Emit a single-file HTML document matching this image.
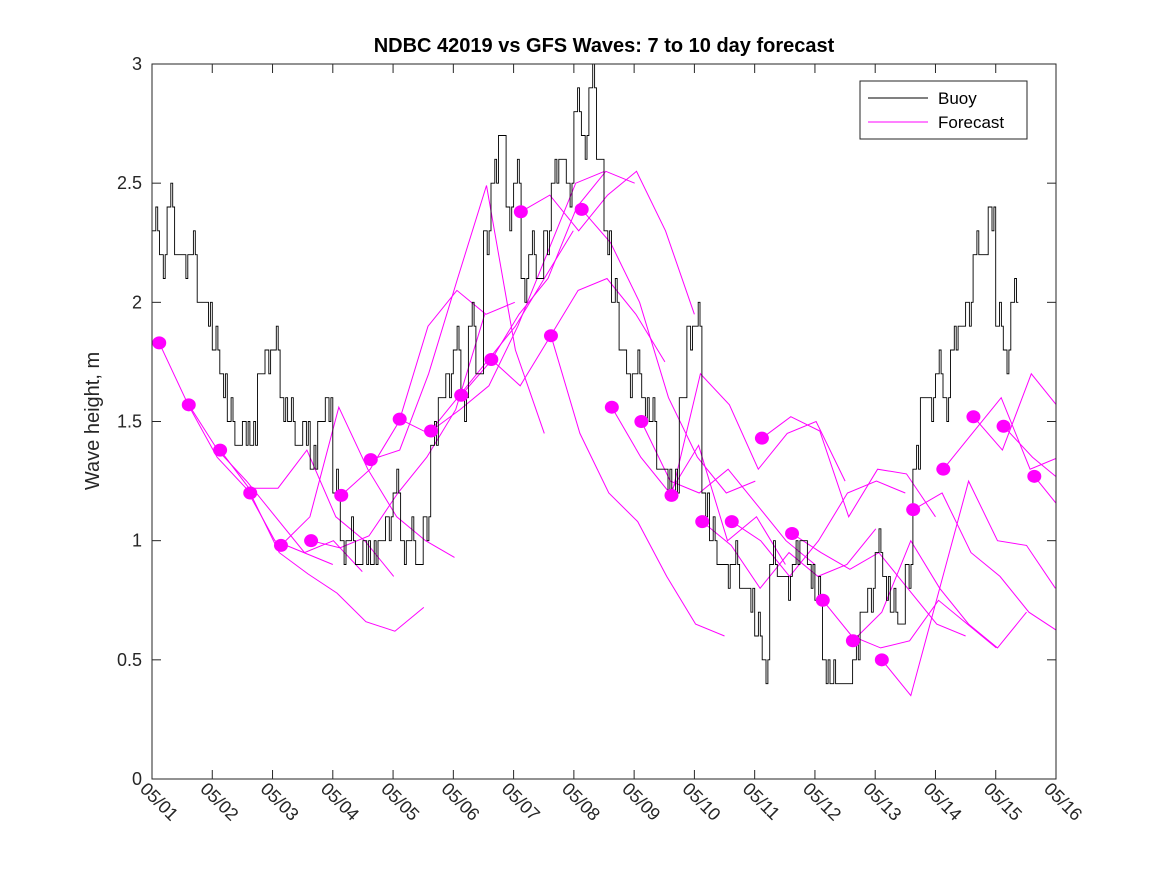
<!DOCTYPE html>
<html><head><meta charset="utf-8"><style>
body{margin:0;background:#fff;}
svg{display:block;font-family:"Liberation Sans","DejaVu Sans",sans-serif;}
</style></head><body>
<svg id="chart" width="1167" height="875" viewBox="0 0 1167 875" xmlns="http://www.w3.org/2000/svg">
<defs><clipPath id="plotclip"><rect x="152" y="64" width="904" height="715"/></clipPath></defs>
<rect x="0" y="0" width="1167" height="875" fill="#fff"/>
<text x="604" y="52" text-anchor="middle" font-size="20" font-weight="bold" fill="#000">NDBC 42019 vs GFS Waves: 7 to 10 day forecast</text>
<text transform="translate(99,421) rotate(-90)" text-anchor="middle" font-size="20" fill="#262626">Wave height, m</text>
<g id="axes"></g>
<g id="series" clip-path="url(#plotclip)"></g>
<rect x="152" y="64" width="904" height="715" fill="none" stroke="#262626" stroke-width="1"/>
<g>
<rect x="860" y="81" width="167" height="58" fill="#fff" stroke="#262626" stroke-width="1"/>
<line x1="868" y1="98" x2="928" y2="98" stroke="#000" stroke-width="1"/>
<text x="938" y="104" font-size="17" fill="#000">Buoy</text>
<line x1="868" y1="122" x2="928" y2="122" stroke="#ff00ff" stroke-width="1"/>
<text x="938" y="128" font-size="17" fill="#000">Forecast</text>
</g>
</svg>
<script>
const xTickLabels = ["05/01","05/02","05/03","05/04","05/05","05/06","05/07","05/08","05/09","05/10","05/11","05/12","05/13","05/14","05/15","05/16"];
const yTickValues = [0,0.5,1,1.5,2,2.5,3];
const yTickLabels = ["0","0.5","1","1.5","2","2.5","3"];
const buoyStep = 0.125;
const buoyValues = [
2.3,2.2,2.4,2.2,2.2,2.2,2.0,2.0,
1.8,1.7,1.5,1.4,1.5,1.4,1.7,1.8,
1.8,1.6,1.5,1.4,1.5,1.3,1.5,1.6,
1.2,1.0,1.0,0.9,1.0,0.9,1.0,1.1,
1.2,1.0,1.0,0.9,1.1,1.4,1.6,1.7,
1.8,1.6,1.9,1.7,2.3,2.5,2.7,2.4,
2.5,2.1,2.2,2.1,2.3,2.5,2.6,2.5,
2.8,2.7,2.9,2.6,2.3,2.0,1.8,1.7,
1.7,1.6,1.5,1.3,1.3,1.2,1.6,1.9,
1.9,1.2,1.0,0.9,0.9,0.9,0.8,0.8,
0.6,0.5,0.9,0.85,0.85,0.9,1.0,0.9,
0.75,0.5,0.4,0.4,0.4,0.5,0.7,0.8,
0.95,0.85,0.7,0.65,0.9,1.3,1.6,1.6,
1.7,1.6,1.8,1.9,2.0,2.2,2.2,2.4,
1.9,1.8,2.0];
const buoyJitter = [0.1,-0.1,0.1,0,-0.1,0.1,0,-0.1];
const forecastStarts = [0.12,0.61,1.13,1.63,2.14,2.64,3.14,3.63,4.11,4.63,5.13,5.63,6.12,6.62,7.13,7.63,8.12,8.62,9.13,9.62,10.12,10.62,11.13,11.63,12.11,12.63,13.13,13.63,14.13,14.64];
const forecastStep = 0.48;
const forecastLines = [
[1.83,1.57,1.35,1.22,1.0,0.95,0.9],
[1.57,1.38,1.25,1.1,0.95,1.0,0.87],
[1.38,1.22,1.22,1.38,1.1,1.0,0.85],
[1.2,0.95,0.86,0.78,0.66,0.62,0.72],
[0.98,1.1,1.56,1.3,1.1,1.0,0.93],
[1.0,0.97,1.02,1.2,1.35,1.55,1.95],
[1.19,1.3,1.5,1.9,2.05,1.95,2.0],
[1.34,1.38,1.7,2.1,2.49,1.8,1.45],
[1.51,1.45,1.6,1.75,1.9,2.1,2.3],
[1.46,1.55,1.65,1.9,2.2,2.5,2.55],
[1.61,1.75,1.95,2.1,2.4,2.55,2.5],
[1.76,1.65,1.85,2.05,2.1,1.95,1.75],
[2.38,2.45,2.3,2.45,2.55,2.3,1.95],
[1.86,1.45,1.2,1.08,0.85,0.65,0.6],
[2.39,2.25,2.0,1.6,1.35,1.2,1.25],
[1.56,1.35,1.2,1.4,1.0,1.1,0.9],
[1.5,1.25,1.2,1.3,1.15,1.0,0.9],
[1.19,1.7,1.57,1.3,1.45,1.5,1.25],
[1.08,0.98,0.8,0.95,0.85,0.9,1.05],
[1.08,1.0,0.85,1.0,1.2,1.25,1.2],
[1.43,1.52,1.46,1.1,1.3,1.28,1.1],
[1.03,0.95,0.88,0.95,0.8,0.65,0.6],
[0.75,0.6,0.55,0.58,0.75,0.65,0.55],
[0.58,0.7,1.0,0.8,0.65,0.55,0.7],
[0.5,0.35,0.8,1.25,1.0,0.98,0.8],
[1.13,1.2,0.95,0.85,0.7,0.62,0.95],
[1.3,1.45,1.6,1.3,1.35,1.15,1.05],
[1.52,1.38,1.7,1.55,1.48,1.52,1.48],
[1.48,1.35,1.25,1.0,0.85,0.84,0.8],
[1.27,1.12,1.0,0.9,0.9,0.9,0.9]];
const dotValues = [1.83,1.57,1.38,1.2,0.98,1.0,1.19,1.34,1.51,1.46,1.61,1.76,2.38,1.86,2.39,1.56,1.5,1.19,1.08,1.08,1.43,1.03,0.75,0.58,0.5,1.13,1.3,1.52,1.48,1.27];

const X0=152, X1=1056, Y0=779, Y1=64, DAYS=15, YMAX=3;
function xs(d){return X0+(X1-X0)*d/DAYS;}
function ys(v){return Y0-(Y0-Y1)*v/YMAX;}
const NS="http://www.w3.org/2000/svg";
const axes=document.getElementById('axes'), series=document.getElementById('series');
function mk(tag,attrs,parent){const e=document.createElementNS(NS,tag);for(const k in attrs)e.setAttribute(k,attrs[k]);parent.appendChild(e);return e;}

xTickLabels.forEach((lab,i)=>{
  const x=xs(i);
  const t1=mk('line',{x1:x,y1:Y0,x2:x,y2:Y0-9,stroke:'#262626'},axes);
  
  
  const t2=mk('line',{x1:x,y1:Y1,x2:x,y2:Y1+9,stroke:'#262626'},axes);
  
  
  const tx=mk('text',{x:0,y:0,'font-size':18,fill:'#262626',transform:`translate(${x-13},${Y0+11}) rotate(45)`},axes);
  tx.textContent=lab;
  
  
});
yTickValues.forEach((v,i)=>{
  const y=ys(v);
  const t1=mk('line',{x1:X0,y1:y,x2:X0+9,y2:y,stroke:'#262626'},axes);
  
  
  const t2=mk('line',{x1:X1,y1:y,x2:X1-9,y2:y,stroke:'#262626'},axes);
  
  
  const tx=mk('text',{x:X0-10,y:y+6,'text-anchor':'end','font-size':18,fill:'#262626'},axes);
  tx.textContent=yTickLabels[i];
  
  
});

forecastLines.forEach((vals,i)=>{
  const pts=vals.map((v,j)=>xs(forecastStarts[i]+j*forecastStep).toFixed(1)+','+ys(v).toFixed(1)).join(' ');
  const pl=mk('polyline',{points:pts,fill:'none',stroke:'#ff00ff','stroke-width':1},series);
  
  
});
(function(){
  let d='';
  const sub=buoyStep/4;
  buoyValues.forEach((v,i)=>{
    const t=i*buoyStep;
    const a=v, b=Math.max(0.4,v+buoyJitter[i%buoyJitter.length]);
    const seq=[a,a,b,a];
    seq.forEach((s,k)=>{
      const x=xs(t+k*sub), y=ys(s);
      d+=(d===''?'M':'L')+x.toFixed(1)+','+y.toFixed(1)+' ';
      d+='L'+xs(t+(k+1)*sub).toFixed(1)+','+y.toFixed(1)+' ';
    });
  });
  const p=mk('path',{d:d,fill:'none',stroke:'#000','stroke-width':0.9},series);
  
  
})();
dotValues.forEach((v,i)=>{
  const c=mk('ellipse',{cx:xs(forecastStarts[i]),cy:ys(v),rx:7,ry:6.5,fill:'#ff00ff'},series);
  
  
});
</script>
</body></html>
